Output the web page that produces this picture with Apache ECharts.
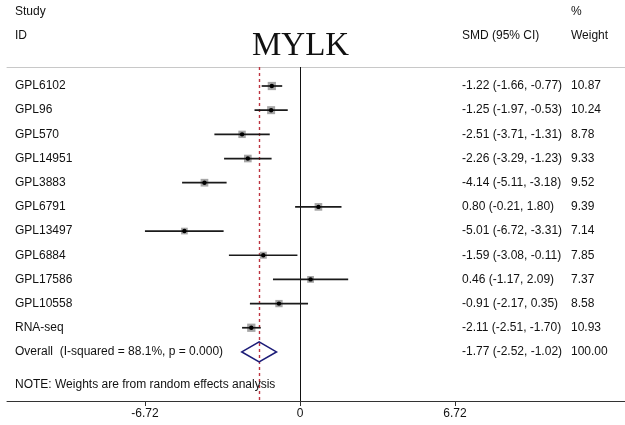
<!DOCTYPE html>
<html>
<head>
<meta charset="utf-8">
<style>
  html, body { margin: 0; padding: 0; background: #fff; }
  #chart { width: 625px; height: 425px; }
</style>
<script src="https://cdn.jsdelivr.net/npm/echarts@6/dist/echarts.min.js"></script>
</head>
<body>
<div id="chart"></div>
<script>
// Forest plot of standardised mean differences for MYLK across datasets
const studies   = ['GPL6102', 'GPL96', 'GPL570', 'GPL14951', 'GPL3883', 'GPL6791',
                   'GPL13497', 'GPL6884', 'GPL17586', 'GPL10558', 'RNA-seq'];
const smd       = [-1.22, -1.25, -2.51, -2.26, -4.14, 0.80, -5.01, -1.59, 0.46, -0.91, -2.11];
const ciLow     = [-1.66, -1.97, -3.71, -3.29, -5.11, -0.21, -6.72, -3.08, -1.17, -2.17, -2.51];
const ciHigh    = [-0.77, -0.53, -1.31, -1.23, -3.18, 1.80, -3.31, -0.11, 2.09, 0.35, -1.70];
const weights   = [10.87, 10.24, 8.78, 9.33, 9.52, 9.39, 7.14, 7.85, 7.37, 8.58, 10.93];

const pooled    = { label: 'Overall  (I-squared = 88.1%, p = 0.000)', est: -1.77, low: -2.52, high: -1.02, weight: 100.00 };
const noteText  = 'NOTE: Weights are from random effects analysis';
const tickValues = [-6.72, 0, 6.72];
const tickLabels = ['-6.72', '0', '6.72'];

const fmt = v => v.toFixed(2);
const ciText = i => fmt(smd[i]) + ' (' + fmt(ciLow[i]) + ', ' + fmt(ciHigh[i]) + ')';

const FONT = 'Liberation Sans, Arial, sans-serif';
const TXT = '#111';
const COL_STUDY = 15, COL_CI = 462, COL_W = 571;
const Y_MIN = -0.786, Y_MAX = 13.03;

const studyRows = studies.map((s, i) => [ciLow[i], ciHigh[i], smd[i], i, weights[i]]);
const overallRow = studies.length;
const noteRow = overallRow + 1.37;

const textRows = studies.map((s, i) => [i, s, ciText(i), fmt(weights[i])]);
textRows.push([overallRow, pooled.label,
  fmt(pooled.est) + ' (' + fmt(pooled.low) + ', ' + fmt(pooled.high) + ')', fmt(pooled.weight)]);
textRows.push([noteRow, noteText, '', '']);

// vertical reference lines: [x value, colour, width, dash]
const refLines = [
  [0, '#111111', 1, null],
  [pooled.est, '#bd3440', 1.4, [3, 3]]
];

const chart = echarts.init(document.getElementById('chart'), null, { renderer: 'canvas' });

chart.setOption({
  animation: false,
  backgroundColor: '#fff',
  title: {
    text: 'MYLK', left: 247, top: 25,
    textStyle: { fontFamily: 'Liberation Serif, Times New Roman, serif', fontSize: 33, fontWeight: 'normal', color: '#111' }
  },
  graphic: [
    { type: 'text', left: COL_STUDY, top: 6, style: { text: 'Study', font: '12px ' + FONT, fill: TXT } },
    { type: 'text', left: COL_STUDY, top: 30, style: { text: 'ID', font: '12px ' + FONT, fill: TXT } },
    { type: 'text', left: COL_W, top: 6, style: { text: '%', font: '12px ' + FONT, fill: TXT } },
    { type: 'text', left: COL_CI, top: 30, style: { text: 'SMD (95% CI)', font: '12px ' + FONT, fill: TXT } },
    { type: 'text', left: COL_W, top: 30, style: { text: 'Weight', font: '12px ' + FONT, fill: TXT } }
  ],
  grid: { left: 7, right: 0, top: 67, bottom: 24 },
  xAxis: [
    {
      type: 'value', position: 'bottom', min: -12.70, max: 14.09,
      splitLine: { show: false },
      axisLine: { show: true, onZero: false, lineStyle: { color: '#333', width: 1 } },
      axisTick: { show: true, inside: false, customValues: tickValues, length: 5, lineStyle: { color: '#333' } },
      axisLabel: {
        customValues: tickValues, margin: 7,
        formatter: v => tickLabels[tickValues.indexOf(v)] ?? String(v),
        fontFamily: FONT, fontSize: 12, color: TXT
      }
    },
    {
      type: 'value', position: 'top', min: -12.70, max: 14.09,
      splitLine: { show: false },
      axisLine: { show: true, onZero: false, lineStyle: { color: '#c8c8c8', width: 1 } },
      axisTick: { show: false }, axisLabel: { show: false }
    }
  ],
  yAxis: {
    type: 'value', inverse: true, min: Y_MIN, max: Y_MAX,
    show: false, splitLine: { show: false }
  },
  series: [
    {
      // null-effect and pooled-estimate reference lines
      type: 'custom', name: 'refs', xAxisIndex: 0, silent: true,
      data: refLines.map(r => [r[0]]),
      renderItem: (params, api) => {
        const r = refLines[params.dataIndex];
        const top = api.coord([api.value(0), Y_MIN]);
        const bot = api.coord([api.value(0), Y_MAX]);
        return {
          type: 'line',
          shape: { x1: Math.round(top[0]) + 0.5, y1: top[1], x2: Math.round(bot[0]) + 0.5, y2: bot[1] },
          style: { stroke: r[1], lineWidth: r[2], lineDash: r[3] }
        };
      }
    },
    {
      // confidence intervals with weight boxes
      type: 'custom', name: 'studies', xAxisIndex: 0,
      data: studyRows,
      renderItem: (params, api) => {
        const row = api.value(3);
        const pLo = api.coord([api.value(0), row]);
        const pHi = api.coord([api.value(1), row]);
        const pEst = api.coord([api.value(2), row]);
        const box = Math.sqrt(api.value(4)) * 2.5;
        return {
          type: 'group',
          children: [
            { type: 'rect', shape: { x: pEst[0] - box / 2, y: pEst[1] - box / 2, width: box, height: box },
              style: { fill: '#a6a6a6' } },
            { type: 'line', shape: { x1: pLo[0], y1: pLo[1], x2: pHi[0], y2: pHi[1] },
              style: { stroke: '#1a1a1a', lineWidth: 1.7 } },
            { type: 'circle', shape: { cx: pEst[0], cy: pEst[1], r: 2.2 }, style: { fill: '#000' } }
          ]
        };
      }
    },
    {
      // pooled estimate diamond
      type: 'custom', name: 'overall', xAxisIndex: 0,
      data: [[pooled.low, pooled.est, pooled.high, overallRow]],
      renderItem: (params, api) => {
        const row = api.value(3);
        const l = api.coord([api.value(0), row]);
        const c = api.coord([api.value(1), row]);
        const r = api.coord([api.value(2), row]);
        const h = 10;
        return {
          type: 'polygon',
          shape: { points: [[l[0], l[1]], [c[0], c[1] - h], [r[0], r[1]], [c[0], c[1] + h]] },
          style: { fill: 'none', stroke: '#1c1c78', lineWidth: 1.6 }
        };
      }
    },
    {
      // text columns: study id, SMD (95% CI), weight
      type: 'custom', name: 'columns', xAxisIndex: 0,
      data: textRows,
      renderItem: (params, api) => {
        const d = textRows[params.dataIndex];
        const y = api.coord([0, d[0]])[1];
        const mk = (x, t) => ({
          type: 'text', x: x, y: y,
          style: { text: t, font: '12px ' + FONT, fill: TXT, verticalAlign: 'middle', align: 'left' }
        });
        return { type: 'group', children: [mk(COL_STUDY, d[1]), mk(COL_CI, d[2]), mk(COL_W, d[3])] };
      }
    }
  ]
});
</script>
</body>
</html>
